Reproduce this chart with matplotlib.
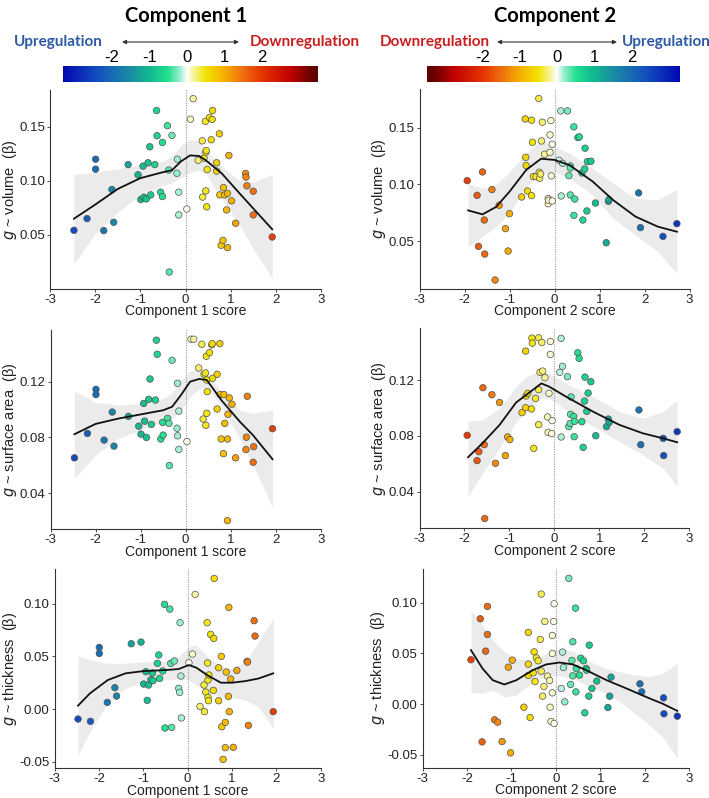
import numpy as np
import matplotlib
matplotlib.use("Agg")
import matplotlib.pyplot as plt
from matplotlib.colors import LinearSegmentedColormap, Normalize

plt.rcParams["font.family"] = ["Liberation Sans", "DejaVu Sans"]

# ---- colour scale (component score -> colour) ----
scale_pos = [-3.4, -2.4, -1.6, -1.0, -0.5, -0.15, 0.0, 0.15, 0.5, 1.0, 1.5, 2.0, 2.8, 3.4]
scale_col = ["#0000b0", "#1450c0", "#1a86a8", "#12b890", "#22e090", "#a8f0d4", "#ffffff",
             "#f8f6b0", "#f2e400", "#f6b000", "#f07010", "#e63600", "#c00000", "#600000"]
bar_ticks = [-2, -1, 0, 1, 2]

# ---- Component 1, volume ----
c1_vol_x = [-2.47, -2.18, -1.99, -1.99, -1.81, -1.63, -1.59, -1.27, -1.05, -0.99, -0.94, -0.92, -0.87,
            -0.83, -0.79, -0.77, -0.68, -0.64, -0.63, -0.55, -0.51, -0.51, -0.40, -0.36, -0.37, -0.30,
            -0.19, -0.18, -0.15, -0.15, 0.03, 0.11, 0.17, 0.28, 0.37, 0.38, 0.41, 0.44, 0.45, 0.45, 0.46,
            0.47, 0.48, 0.53, 0.57, 0.59, 0.60, 0.69, 0.69, 0.75, 0.76, 0.79, 0.83, 0.84, 0.87, 0.91,
            0.93, 0.93, 0.96, 1.02, 1.11, 1.33, 1.34, 1.36, 1.50, 1.50, 1.92]
c1_vol_y = [0.0543, 0.0651, 0.120, 0.1108, 0.054, 0.092, 0.0617, 0.115, 0.1056, 0.0827, 0.1136, 0.0849,
            0.0833, 0.1167, 0.1315, 0.087, 0.115, 0.165, 0.1417, 0.0895, 0.1355, 0.0855, 0.151, 0.0157,
            0.110, 0.142, 0.107, 0.120, 0.0895, 0.0685, 0.074, 0.157, 0.176, 0.119, 0.137, 0.085, 0.121,
            0.155, 0.0907, 0.1265, 0.128, 0.076, 0.1105, 0.1586, 0.138, 0.1568, 0.165, 0.1167, 0.109,
            0.1435, 0.087, 0.0404, 0.045, 0.0938, 0.087, 0.0731, 0.0383, 0.0883, 0.1235, 0.0815, 0.0608,
            0.1068, 0.1034, 0.0954, 0.0904, 0.0685, 0.0481]
c1_vol_gx = [-2.47, -2.0, -1.5, -1.0, -0.5, -0.3, -0.1, 0.1, 0.3, 0.45, 0.8, 1.2, 1.5, 1.92]
c1_vol_fit = [0.065, 0.078, 0.0925, 0.1025, 0.108, 0.1098, 0.118, 0.1235, 0.123, 0.119, 0.107, 0.0883,
              0.0745, 0.0552]
c1_vol_hi = [0.106, 0.108, 0.111, 0.115, 0.118, 0.123, 0.133, 0.1386, 0.136, 0.129, 0.113, 0.1006, 0.099,
             0.1059]
c1_vol_lo = [0.0234, 0.051, 0.0713, 0.0867, 0.096, 0.098, 0.103, 0.1077, 0.110, 0.106, 0.0836, 0.059,
             0.0373, 0.0096]

# ---- Component 2, volume ----
c2_vol_x = [-1.94, -1.72, -1.69, -1.60, -1.56, -1.55, -1.39, -1.32, -1.23, -1.09, -1.03, -1.0, -0.73,
            -0.65, -0.64, -0.63, -0.60, -0.51, -0.51, -0.49, -0.47, -0.41, -0.35, -0.34, -0.33, -0.31,
            -0.29, -0.27, -0.22, -0.14, -0.14, -0.13, -0.10, -0.10, -0.08, -0.07, -0.05, -0.05, 0.10,
            0.14, 0.15, 0.18, 0.29, 0.32, 0.35, 0.35, 0.35, 0.43, 0.45, 0.43, 0.52, 0.55, 0.61, 0.63,
            0.67, 0.68, 0.72, 0.73, 0.81, 0.91, 1.15, 1.20, 1.21, 1.87, 1.91, 2.41, 2.72]
c2_vol_y = [0.1032, 0.0903, 0.0453, 0.1109, 0.0685, 0.0385, 0.0953, 0.0156, 0.0815, 0.0609, 0.0412,
            0.0741, 0.0888, 0.1576, 0.1238, 0.1165, 0.0941, 0.090, 0.1565, 0.137, 0.1068, 0.1068, 0.1756,
            0.1106, 0.1053, 0.1091, 0.1382, 0.1547, 0.1265, 0.0874, 0.0829, 0.0859, 0.1282, 0.1435,
            0.1562, 0.1074, 0.0853, 0.1353, 0.1212, 0.1647, 0.0897, 0.1185, 0.1647, 0.1076, 0.1162,
            0.1144, 0.0906, 0.1506, 0.087, 0.0726, 0.1412, 0.1418, 0.11, 0.0685, 0.1135, 0.1318, 0.0765,
            0.120, 0.1203, 0.0835, 0.0485, 0.085, 0.0865, 0.0924, 0.0618, 0.0541, 0.0653]
c2_vol_gx = [-1.92, -1.6, -1.3, -1.0, -0.63, -0.3, 0.0, 0.33, 0.85, 1.3, 1.8, 2.3, 2.72]
c2_vol_fit = [0.077, 0.0735, 0.080, 0.0935, 0.1126, 0.1225, 0.1215, 0.117, 0.1024, 0.0862, 0.0715,
              0.0626, 0.0582]
c2_vol_hi = [0.1006, 0.0965, 0.0994, 0.111, 0.1274, 0.139, 0.1332, 0.1274, 0.114, 0.1009, 0.0876,
             0.0862, 0.0956]
c2_vol_lo = [0.045, 0.0538, 0.0626, 0.0744, 0.098, 0.1082, 0.1112, 0.1053, 0.0906, 0.070, 0.0553,
             0.0406, 0.0215]

# ---- Component 1, surface area ----
c1_sa_x = [-2.47, -2.18, -1.99, -1.99, -1.81, -1.63, -1.59, -1.27, -1.04, -0.99, -0.93, -0.91, -0.87,
           -0.82, -0.79, -0.76, -0.67, -0.65, -0.63, -0.55, -0.51, -0.50, -0.40, -0.36, -0.37, -0.30,
           -0.19, -0.18, -0.15, -0.15, -0.18, 0.03, 0.12, 0.18, 0.29, 0.36, 0.39, 0.41, 0.44, 0.45, 0.46,
           0.47, 0.47, 0.48, 0.53, 0.58, 0.59, 0.60, 0.70, 0.70, 0.76, 0.77, 0.79, 0.84, 0.85, 0.87,
           0.93, 0.93, 0.94, 0.97, 1.03, 1.11, 1.37, 1.35, 1.34, 1.50, 1.51, 1.93]
c1_sa_y = [0.0654, 0.0829, 0.1145, 0.1107, 0.0781, 0.0982, 0.0738, 0.0951, 0.0881, 0.0824, 0.1044,
           0.0917, 0.080, 0.1073, 0.1219, 0.0893, 0.1068, 0.1497, 0.1396, 0.0789, 0.0908, 0.0817, 0.0937,
           0.0599, 0.0901, 0.1353, 0.0866, 0.1188, 0.0989, 0.0715, 0.0812, 0.0771, 0.1504, 0.1504,
           0.1298, 0.1468, 0.0932, 0.1253, 0.1262, 0.0887, 0.1382, 0.1212, 0.0973, 0.1128, 0.1408,
           0.1463, 0.1472, 0.1224, 0.1253, 0.1004, 0.1472, 0.1107, 0.0789, 0.0684, 0.1107, 0.0901,
           0.0789, 0.0204, 0.0966, 0.1083, 0.1038, 0.0654, 0.1095, 0.0802, 0.0713, 0.0622, 0.0734, 0.0863]
c1_sa_gx = [-2.47, -2.0, -1.5, -1.0, -0.5, -0.3, -0.1, 0.1, 0.3, 0.47, 0.8, 1.2, 1.5, 1.93]
c1_sa_fit = [0.0823, 0.0897, 0.0935, 0.0965, 0.0995, 0.102, 0.1105, 0.120, 0.1219, 0.1212, 0.1065,
             0.0915, 0.0815, 0.0644]
c1_sa_hi = [0.1133, 0.1052, 0.1033, 0.1044, 0.108, 0.112, 0.121, 0.127, 0.1296, 0.126, 0.1128, 0.0997,
            0.0973, 0.0997]
c1_sa_lo = [0.0507, 0.0674, 0.0794, 0.0854, 0.0913, 0.093, 0.100, 0.109, 0.1147, 0.1164, 0.1021, 0.0794,
            0.0603, 0.0297]

# ---- Component 2, surface area ----
c2_sa_x = [-1.94, -1.72, -1.68, -1.59, -1.56, -1.55, -1.39, -1.31, -1.22, -1.09, -1.04, -0.99, -0.72,
           -0.64, -0.64, -0.63, -0.59, -0.51, -0.50, -0.49, -0.46, -0.42, -0.35, -0.35, -0.35, -0.32,
           -0.28, -0.26, -0.21, -0.15, -0.14, -0.12, -0.09, -0.09, -0.06, -0.05, 0.12, 0.15, 0.15, 0.18,
           0.29, 0.32, 0.35, 0.36, 0.37, 0.43, 0.45, 0.44, 0.52, 0.55, 0.61, 0.64, 0.67, 0.68, 0.72, 0.75,
           0.81, 0.92, 1.16, 1.20, 1.22, 1.88, 1.92, 2.42, 2.43, 2.73]
c2_sa_y = [0.0805, 0.0624, 0.0688, 0.1145, 0.0738, 0.021, 0.1095, 0.0605, 0.104, 0.066, 0.0793, 0.0774,
           0.0967, 0.1407, 0.1002, 0.1086, 0.1105, 0.0993, 0.150, 0.1464, 0.0712, 0.1069, 0.1502, 0.1131,
           0.0881, 0.1255, 0.1469, 0.1264, 0.1217, 0.0936, 0.0826, 0.1105, 0.1383, 0.1476, 0.0817, 0.091,
           0.1255, 0.1498, 0.0793, 0.1298, 0.1224, 0.0867, 0.089, 0.0955, 0.1079, 0.094, 0.0905, 0.0795,
           0.1395, 0.1355, 0.0902, 0.0719, 0.105, 0.1221, 0.0976, 0.1107, 0.1188, 0.0802, 0.0867, 0.0921,
           0.0898, 0.0986, 0.0738, 0.0783, 0.066, 0.0831]
c2_sa_gx = [-1.92, -1.6, -1.22, -0.85, -0.63, -0.29, -0.11, 0.26, 0.86, 1.45, 1.97, 2.42, 2.73]
c2_sa_fit = [0.0648, 0.0748, 0.0879, 0.104, 0.1093, 0.1176, 0.1152, 0.1081, 0.0974, 0.0879, 0.0819,
             0.0783, 0.0755]
c2_sa_hi = [0.0907, 0.0914, 0.0998, 0.1152, 0.1224, 0.1271, 0.1245, 0.1176, 0.1081, 0.0974, 0.0926,
            0.0974, 0.1057]
c2_sa_lo = [0.0367, 0.0533, 0.0712, 0.0902, 0.0974, 0.1069, 0.1069, 0.0986, 0.0867, 0.076, 0.0664,
            0.0569, 0.0438]

# ---- Component 1, thickness ----
c1_th_x = [-2.47, -2.19, -1.99, -1.99, -1.81, -1.64, -1.60, -1.27, -1.05, -0.99, -0.94, -0.91, -0.88,
           -0.83, -0.79, -0.78, -0.68, -0.65, -0.63, -0.56, -0.52, -0.51, -0.40, -0.38, -0.36, -0.30,
           -0.20, -0.18, -0.17, -0.15, -0.14, 0.03, 0.11, 0.17, 0.28, 0.37, 0.38, 0.41, 0.44, 0.45, 0.46,
           0.46, 0.47, 0.48, 0.52, 0.58, 0.59, 0.60, 0.70, 0.70, 0.76, 0.77, 0.80, 0.85, 0.85, 0.87,
           0.92, 0.93, 0.94, 0.97, 1.03, 1.11, 1.34, 1.35, 1.37, 1.50, 1.52, 1.93]
c1_th_y = [-0.0095, -0.0117, 0.0585, 0.0528, 0.0063, 0.0203, 0.0123, 0.062, 0.0636, 0.0237, 0.0354,
           0.0082, 0.0228, 0.0278, 0.0342, 0.0269, 0.0434, 0.0513, 0.0291, 0.0361, 0.0994, -0.018, 0.0949,
           0.0434, -0.0174, 0.0456, 0.0196, 0.0158, 0.082, 0.0313, -0.0085, 0.044, 0.0522, 0.1089, 0.0025,
           0.0228, -0.0025, 0.0161, 0.082, 0.0437, 0.0275, 0.0111, 0.0079, 0.0323, 0.0709, 0.0177, 0.0671,
           0.124, 0.0392, 0.0079, 0.050, -0.0168, -0.0478, -0.0127, -0.0367, 0.0351, 0.012, 0.0965,
           -0.0025, 0.0285, -0.0364, 0.0367, 0.0453, 0.0446, -0.0155, 0.0839, 0.0693, -0.0025]
c1_th_gx = [-2.47, -2.2, -1.8, -1.4, -1.0, -0.5, -0.2, 0.03, 0.2, 0.45, 0.75, 1.0, 1.3, 1.6, 1.93]
c1_th_fit = [0.0032, 0.0149, 0.0275, 0.0339, 0.036, 0.037, 0.038, 0.0418, 0.0392, 0.032, 0.025, 0.025,
             0.0265, 0.029, 0.0339]
c1_th_hi = [0.0503, 0.0465, 0.0434, 0.0434, 0.0449, 0.0456, 0.0497, 0.0592, 0.0608, 0.0497, 0.0402,
            0.0386, 0.0449, 0.0639, 0.0861]
c1_th_lo = [-0.0437, -0.0215, 0.0054, 0.0196, 0.0259, 0.0275, 0.0291, 0.0275, 0.0228, 0.0165, 0.0117,
            0.0108, 0.0085, 0.0022, -0.0184]

# ---- Component 2, thickness ----
c2_th_x = [-1.91, -1.70, -1.66, -1.58, -1.54, -1.54, -1.38, -1.31, -1.21, -1.07, -1.02, -0.98, -0.72,
           -0.62, -0.62, -0.62, -0.58, -0.51, -0.49, -0.47, -0.44, -0.40, -0.35, -0.33, -0.33, -0.30,
           -0.27, -0.25, -0.19, -0.14, -0.13, -0.11, -0.08, -0.08, -0.08, -0.05, -0.04, -0.04, 0.12, 0.15,
           0.17, 0.20, 0.29, 0.33, 0.36, 0.38, 0.38, 0.44, 0.45, 0.46, 0.53, 0.56, 0.62, 0.65, 0.68, 0.69,
           0.74, 0.75, 0.81, 0.92, 1.17, 1.21, 1.24, 1.89, 1.93, 2.42, 2.43, 2.73]
c2_th_y = [0.0437, 0.084, -0.0371, 0.0522, 0.0962, 0.0686, -0.0154, -0.0177, -0.0368, 0.0364, -0.0479,
           0.0433, -0.003, 0.0706, 0.0394, 0.0282, -0.0131, 0.0309, 0.0515, 0.0223, 0.0456, 0.0427, 0.0637,
           0.1083, 0.0325, 0.0079, 0.0174, 0.0814, 0.0276, 0.0233, -0.003, -0.0171, 0.0676, 0.0499, 0.0112,
           0.0814, 0.0988, -0.019, 0.0154, 0.0512, 0.0361, 0.0023, 0.1238, 0.0194, 0.043, 0.0614, 0.0279,
           0.0945, 0.0121, 0.0351, 0.0286, 0.0453, 0.0427, -0.0085, 0.0351, 0.0335, 0.0079, 0.0581, 0.0154,
           0.0227, -0.0033, 0.0079, 0.0266, 0.020, 0.0121, 0.0062, -0.0095, -0.0118]
c2_th_gx = [-1.91, -1.65, -1.42, -1.16, -0.89, -0.52, -0.22, 0.08, 0.38, 0.68, 1.14, 1.59, 2.11, 2.4, 2.73]
c2_th_fit = [0.0532, 0.0351, 0.0236, 0.0194, 0.0236, 0.0335, 0.0391, 0.041, 0.0391, 0.0335, 0.0236,
             0.0154, 0.0056, 0.0005, -0.0066]
c2_th_hi = [0.0926, 0.0778, 0.063, 0.0516, 0.045, 0.0433, 0.0499, 0.0555, 0.0522, 0.0433, 0.0351, 0.0302,
            0.0269, 0.0302, 0.0401]
c2_th_lo = [0.0121, 0.0105, 0.0138, 0.0072, 0.0089, 0.022, 0.0279, 0.0279, 0.0253, 0.0187, 0.0105,
            -0.0026, -0.0207, -0.0322, -0.0535]

W, H = 709, 798
fig = plt.figure(figsize=(W / 100, H / 100), dpi=100)

lo_s, hi_s = scale_pos[0], scale_pos[-1]
cmap1 = LinearSegmentedColormap.from_list(
    "c1", [((p - lo_s) / (hi_s - lo_s), c) for p, c in zip(scale_pos, scale_col)])
cmap2 = cmap1.reversed()
norm = Normalize(lo_s, hi_s)


def px_axes(x0, y0, x1, y1):
    return fig.add_axes([x0 / W, 1 - y1 / H, (x1 - x0) / W, (y1 - y0) / H])


# header overlay in pixel coordinates
ov = fig.add_axes([0, 0, 1, 1], zorder=-5)
ov.set_xlim(0, W)
ov.set_ylim(H, 0)
ov.axis("off")
hfont = dict(family=["Lato", "DejaVu Sans"], fontweight="bold")
blue_t, red_t = "#2d5aa5", "#c81e1e"
ov.text(186, 16, "Component 1", ha="center", va="center", fontsize=14.5, **hfont)
ov.text(555, 16, "Component 2", ha="center", va="center", fontsize=14.5, **hfont)
ov.text(58, 42, "Upregulation", ha="center", va="center", fontsize=11, color=blue_t, **hfont)
ov.text(305, 42, "Downregulation", ha="center", va="center", fontsize=11, color=red_t, **hfont)
ov.text(435, 42, "Downregulation", ha="center", va="center", fontsize=11, color=red_t, **hfont)
ov.text(666, 42, "Upregulation", ha="center", va="center", fontsize=11, color=blue_t, **hfont)
for a, b in [(122, 239), (497, 617)]:
    ov.annotate("", xy=(b, 42), xytext=(a, 42),
                arrowprops=dict(arrowstyle="<|-|>", color="#333333", lw=0.8,
                                mutation_scale=6, shrinkA=0, shrinkB=0))

# colour bars
for (x0, x1, cm, lims) in [(63, 318, cmap1, (-3.3, 3.5)), (427, 680, cmap2, (-3.5, 3.3))]:
    cax = px_axes(x0, 66, x1, 82)
    grad = np.linspace(lims[0], lims[1], 400)[None, :]
    cax.imshow(grad, cmap=cm, norm=norm, aspect="auto", extent=[lims[0], lims[1], 0, 1])
    cax.set_xlim(*lims)
    cax.set_yticks([])
    cax.xaxis.tick_top()
    cax.set_xticks(bar_ticks)
    cax.set_xticklabels([str(t) for t in bar_ticks])
    cax.tick_params(axis="x", length=0, labelsize=12, pad=1)
    for s in cax.spines.values():
        s.set_visible(False)

# (axes box px, ylim, y ticks, measure, component, right edge of y label px, ...)
panels = [
    ((50, 90, 321, 289), (0.0, 0.184), [0.05, 0.10, 0.15], "volume", 1, 19,
     c1_vol_x, c1_vol_y, c1_vol_gx, c1_vol_fit, c1_vol_lo, c1_vol_hi),
    ((419.5, 89, 689.5, 289), (0.0077, 0.184), [0.05, 0.10, 0.15], "volume", 2, 388,
     c2_vol_x, c2_vol_y, c2_vol_gx, c2_vol_fit, c2_vol_lo, c2_vol_hi),
    ((50.5, 330, 320.7, 529.3), (0.0142, 0.157), [0.04, 0.08, 0.12], "surface area", 1, 19,
     c1_sa_x, c1_sa_y, c1_sa_gx, c1_sa_fit, c1_sa_lo, c1_sa_hi),
    ((419.5, 328.3, 689.3, 528.3), (0.014, 0.157), [0.04, 0.08, 0.12], "surface area", 2, 388,
     c2_sa_x, c2_sa_y, c2_sa_gx, c2_sa_fit, c2_sa_lo, c2_sa_hi),
    ((54.5, 569, 320.7, 768.3), (-0.0563, 0.133), [-0.05, 0.00, 0.05, 0.10], "thickness", 1, 19,
     c1_th_x, c1_th_y, c1_th_gx, c1_th_fit, c1_th_lo, c1_th_hi),
    ((422.5, 569, 689.3, 767.7), (-0.0625, 0.133), [-0.05, 0.00, 0.05, 0.10], "thickness", 2, 387,
     c2_th_x, c2_th_y, c2_th_gx, c2_th_fit, c2_th_lo, c2_th_hi),
]

for box, ylim, yticks, measure, comp, lab_x, xs, ys, gx, fit, lo, hi in panels:
    ax = px_axes(*box)
    cm = cmap1 if comp == 1 else cmap2
    ax.fill_between(gx, lo, hi, color="#ebebeb", lw=0, zorder=1)
    ax.axvline(0, color="#9a9a9a", lw=0.8, ls=(0, (1, 1.2)), zorder=2)
    ax.scatter(xs, ys, c=xs, cmap=cm, norm=norm, s=22, edgecolors="#505050",
               linewidths=0.5, zorder=3)
    ax.plot(gx, fit, color="#111111", lw=1.3, zorder=4)
    ax.set_xlim(-3, 3)
    ax.set_ylim(*ylim)
    ax.set_xticks([-3, -2, -1, 0, 1, 2, 3])
    ax.set_xticklabels(["-3", "-2", "-1", "0", "1", "2", "3"])
    ax.set_yticks(yticks)
    ax.set_yticklabels([f"{t:.2f}" for t in yticks])
    ax.tick_params(labelsize=9.5, length=2.5, width=0.6, color="#333333", pad=1,
                   labelcolor="#222222")
    for s in ["top", "right"]:
        ax.spines[s].set_visible(False)
    for s in ["left", "bottom"]:
        ax.spines[s].set_color("#333333")
        ax.spines[s].set_linewidth(0.8)
    bw = box[2] - box[0]
    bh = box[3] - box[1]
    ax.set_xlabel(f"Component {comp} score", fontsize=10, color="#222222")
    ax.xaxis.set_label_coords(0.5, -15.5 / bh)
    ax.set_ylabel(f"$g$ ~ {measure}  (β)", fontsize=10.5, color="#222222")
    ax.yaxis.set_label_coords((lab_x - box[0]) / bw, 0.5)

fig.savefig("out.png", dpi=100)
